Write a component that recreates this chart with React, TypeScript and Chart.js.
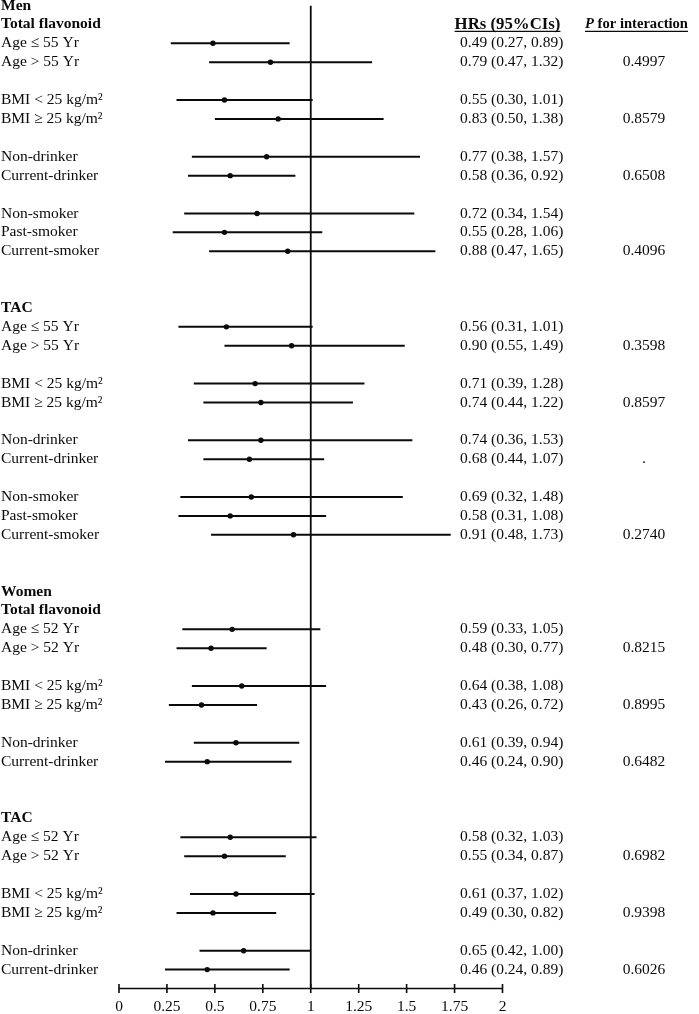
import React, { useEffect, useRef } from 'react';
import { Chart, registerables } from 'chart.js';

Chart.register(...registerables);

// ---- data ----
const HEADING_ROWS = [0, 1, 16, 31, 32, 43];
const HEADING_TEXT = ['Men', 'Total flavonoid', 'TAC', 'Women', 'Total flavonoid', 'TAC'];

const ROWS = [
  2, 3, 5, 6, 8, 9, 11, 12, 13,
  17, 18, 20, 21, 23, 24, 26, 27, 28,
  33, 34, 36, 37, 39, 40,
  44, 45, 47, 48, 50, 51,
];

const LABELS = [
  'Age ≤ 55 Yr', 'Age > 55 Yr', 'BMI < 25 kg/m²', 'BMI ≥ 25 kg/m²', 'Non-drinker', 'Current-drinker', 'Non-smoker', 'Past-smoker', 'Current-smoker',
  'Age ≤ 55 Yr', 'Age > 55 Yr', 'BMI < 25 kg/m²', 'BMI ≥ 25 kg/m²', 'Non-drinker', 'Current-drinker', 'Non-smoker', 'Past-smoker', 'Current-smoker',
  'Age ≤ 52 Yr', 'Age > 52 Yr', 'BMI < 25 kg/m²', 'BMI ≥ 25 kg/m²', 'Non-drinker', 'Current-drinker',
  'Age ≤ 52 Yr', 'Age > 52 Yr', 'BMI < 25 kg/m²', 'BMI ≥ 25 kg/m²', 'Non-drinker', 'Current-drinker',
];

const HR = [
  0.49, 0.79, 0.55, 0.83, 0.77, 0.58, 0.72, 0.55, 0.88,
  0.56, 0.90, 0.71, 0.74, 0.74, 0.68, 0.69, 0.58, 0.91,
  0.59, 0.48, 0.64, 0.43, 0.61, 0.46,
  0.58, 0.55, 0.61, 0.49, 0.65, 0.46,
];
const LO = [
  0.27, 0.47, 0.30, 0.50, 0.38, 0.36, 0.34, 0.28, 0.47,
  0.31, 0.55, 0.39, 0.44, 0.36, 0.44, 0.32, 0.31, 0.48,
  0.33, 0.30, 0.38, 0.26, 0.39, 0.24,
  0.32, 0.34, 0.37, 0.30, 0.42, 0.24,
];
const HI = [
  0.89, 1.32, 1.01, 1.38, 1.57, 0.92, 1.54, 1.06, 1.65,
  1.01, 1.49, 1.28, 1.22, 1.53, 1.07, 1.48, 1.08, 1.73,
  1.05, 0.77, 1.08, 0.72, 0.94, 0.90,
  1.03, 0.87, 1.02, 0.82, 1.00, 0.89,
];
const P_INTERACTION = [
  '', '0.4997', '', '0.8579', '', '0.6508', '', '', '0.4096',
  '', '0.3598', '', '0.8597', '', '.', '', '', '0.2740',
  '', '0.8215', '', '0.8995', '', '0.6482',
  '', '0.6982', '', '0.9398', '', '0.6026',
];

const XTICKS = [0, 0.25, 0.5, 0.75, 1, 1.25, 1.5, 1.75, 2];
const XTICK_LABELS = ['0', '0.25', '0.5', '0.75', '1', '1.25', '1.5', '1.75', '2'];

const REF_VALUE = 1;
const Y_MAX = 52;

// ---- style ----
const INK = '#0a0a0a';
const FONT = '"Liberation Serif", "Times New Roman", serif';
const FS = 15.5;

export default function App() {
  const ref = useRef<HTMLCanvasElement | null>(null);

  useEffect(() => {
    const canvas = ref.current;
    if (!canvas) return;

    const ciSets = ROWS.map((r, i) => ({
      type: 'scatter' as const,
      data: [
        { x: LO[i], y: r },
        { x: HI[i], y: r },
      ],
      showLine: true,
      borderColor: INK,
      borderWidth: 2,
      pointRadius: 0,
      pointHoverRadius: 0,
      order: 2,
    }));

    const refLine = {
      type: 'scatter' as const,
      data: [
        { x: REF_VALUE, y: 0 },
        { x: REF_VALUE, y: Y_MAX },
      ],
      showLine: true,
      borderColor: INK,
      borderWidth: 1.8,
      pointRadius: 0,
      order: 3,
    };

    const points = {
      type: 'scatter' as const,
      data: ROWS.map((r, i) => ({ x: HR[i], y: r })),
      showLine: false,
      pointRadius: 2.7,
      pointBackgroundColor: INK,
      pointBorderColor: INK,
      pointBorderWidth: 0,
      order: 1,
    };

    const textPlugin = {
      id: 'forestText',
      afterDraw(chart: any) {
        const ctx = chart.ctx as CanvasRenderingContext2D;
        const xs = chart.scales.x;
        const ys = chart.scales.y;
        ctx.save();
        ctx.fillStyle = INK;
        ctx.strokeStyle = INK;
        ctx.textBaseline = 'middle';

        // headings
        ctx.font = `bold ${FS}px ${FONT}`;
        ctx.textAlign = 'left';
        HEADING_ROWS.forEach((r, i) => {
          ctx.fillText(HEADING_TEXT[i], 1, ys.getPixelForValue(r));
        });

        // row labels, HR text, P values
        ROWS.forEach((r, i) => {
          const y = ys.getPixelForValue(r);
          ctx.font = `${FS}px ${FONT}`;
          ctx.textAlign = 'left';
          ctx.fillText(LABELS[i], 1, y);
          ctx.fillText(`${HR[i].toFixed(2)} (${LO[i].toFixed(2)}, ${HI[i].toFixed(2)})`, 460, y);
          if (P_INTERACTION[i]) {
            ctx.textAlign = 'center';
            ctx.fillText(P_INTERACTION[i], 644, y);
          }
        });

        // column headers
        const hy = ys.getPixelForValue(1);
        ctx.textAlign = 'left';
        ctx.font = `bold 16.8px ${FONT}`;
        const hrHead = 'HRs (95%CIs)';
        const hrW = ctx.measureText(hrHead).width;
        const hrX = 507.5 - hrW / 2;
        ctx.fillText(hrHead, hrX, hy);
        ctx.lineWidth = 1.2;
        ctx.beginPath();
        ctx.moveTo(hrX, hy + 7);
        ctx.lineTo(hrX + hrW, hy + 7);
        ctx.stroke();

        const PFS = 14.6;
        ctx.font = `bold italic ${PFS}px ${FONT}`;
        const pW = ctx.measureText('P').width;
        ctx.font = `bold ${PFS}px ${FONT}`;
        const restW = ctx.measureText(' for interaction').width;
        const pX = 636.5 - (pW + restW) / 2;
        ctx.font = `bold italic ${PFS}px ${FONT}`;
        ctx.fillText('P', pX, hy);
        ctx.font = `bold ${PFS}px ${FONT}`;
        ctx.fillText(' for interaction', pX + pW, hy);
        ctx.beginPath();
        ctx.moveTo(pX, hy + 7);
        ctx.lineTo(pX + pW + restW, hy + 7);
        ctx.stroke();

        // x axis with crossing ticks
        const ay = chart.chartArea.bottom;
        ctx.lineWidth = 1.6;
        ctx.beginPath();
        ctx.moveTo(xs.getPixelForValue(XTICKS[0]), ay);
        ctx.lineTo(xs.getPixelForValue(XTICKS[XTICKS.length - 1]), ay);
        XTICKS.forEach((t) => {
          const px = xs.getPixelForValue(t);
          ctx.moveTo(px, ay - 4.5);
          ctx.lineTo(px, ay + 4.5);
        });
        ctx.stroke();
        ctx.font = `${FS}px ${FONT}`;
        ctx.textAlign = 'center';
        XTICKS.forEach((t, i) => {
          ctx.fillText(XTICK_LABELS[i], xs.getPixelForValue(t), ay + 18);
        });
        ctx.restore();
      },
    };

    const chart = new Chart(canvas, {
      type: 'scatter',
      data: { datasets: [...ciSets, refLine, points] as any },
      options: {
        responsive: false,
        animation: false,
        devicePixelRatio: 1,
        layout: { padding: { left: 119, right: 196.5, top: 5.5, bottom: 25.5 } },
        plugins: { legend: { display: false }, tooltip: { enabled: false } },
        events: [],
        scales: {
          x: { type: 'linear', min: 0, max: 2, display: false },
          y: { type: 'linear', min: 0, max: Y_MAX, reverse: true, display: false },
        },
      },
      plugins: [textPlugin],
    });

    return () => chart.destroy();
  }, []);

  return (
    <div style={{ position: 'absolute', left: 0, top: 0, width: 699, height: 1014, background: '#fff' }}>
      <canvas ref={ref} width={699} height={1014} style={{ display: 'block' }} />
    </div>
  );
}
